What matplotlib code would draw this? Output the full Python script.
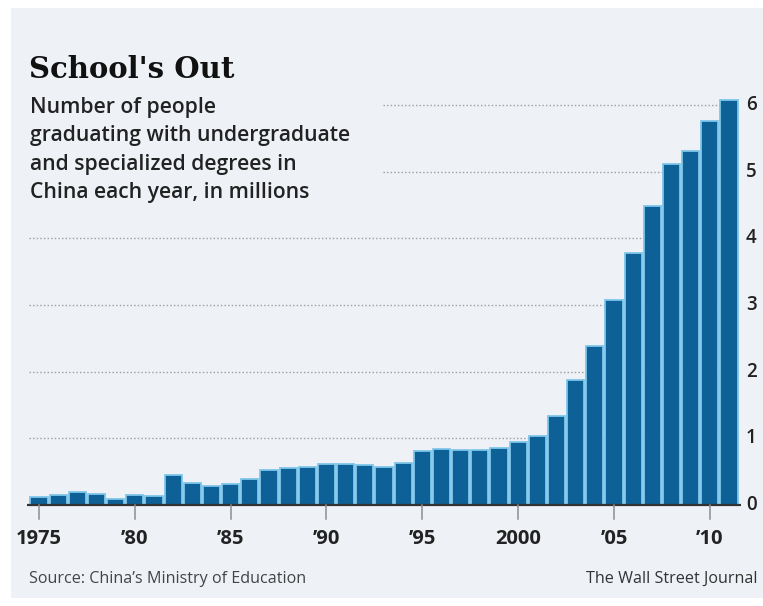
import matplotlib
matplotlib.use("Agg")
import matplotlib.pyplot as plt
from matplotlib.patches import Rectangle

# Graduates in China with undergraduate and specialized degrees, millions
years = list(range(1975, 2012))
graduates = [0.12, 0.15, 0.19, 0.17, 0.085, 0.147, 0.14, 0.457, 0.335, 0.287,
             0.316, 0.393, 0.532, 0.553, 0.576, 0.614, 0.614, 0.604, 0.571,
             0.637, 0.805, 0.839, 0.829, 0.830, 0.848, 0.950, 1.036, 1.337,
             1.877, 2.391, 3.068, 3.775, 4.478, 5.119, 5.311, 5.754, 6.082]

tick_years = [1975, 1980, 1985, 1990, 1995, 2000, 2005, 2010]
tick_labels = ["1975", "\u201980", "\u201985", "\u201990", "\u201995", "2000", "\u201905", "\u201910"]
y_ticks = [0, 1, 2, 3, 4, 5, 6]

title = "School's Out"
subtitle = ["Number of people",
            "graduating with undergraduate",
            "and specialized degrees in",
            "China each year, in millions"]
source = "Source: China\u2019s Ministry of Education"
credit = "The Wall Street Journal"

W, H = 763, 606
BG = "#eef2f7"
BAR = "#0d6196"
EDGE = "#7fc5ea"
TEXT = "#222222"
SANS = ["Open Sans", "DejaVu Sans"]

fig = plt.figure(figsize=(W / 100, H / 100), dpi=100)
fig.patch.set_facecolor("white")
fig.patches.append(Rectangle((11 / W, 1 - 598 / H), (W - 11) / W, (598 - 8) / H,
                             transform=fig.transFigure, facecolor=BG,
                             edgecolor="none", zorder=-10))

def px(x, y):
    return x / W, 1 - y / H

# axes: x slots 1974.5..2011.5 from 29.4 px to 738.6 px, y 0 at 505 px
ymax = 6.3
unit = 66.67
left, right = 29.4, 738.6
bottom_px = 505
top_px = bottom_px - ymax * unit
ax = fig.add_axes([left / W, 1 - bottom_px / H, (right - left) / W, (bottom_px - top_px) / H])
ax.set_facecolor("none")
ax.set_xlim(1974.5, 2011.5)
ax.set_ylim(0, ymax)
for s in ax.spines.values():
    s.set_visible(False)
ax.set_xticks([])
ax.set_yticks([])

# dotted gridlines; upper ones start right of the subtitle
grid_start = {1: 1974.5, 2: 1974.5, 3: 1974.5, 4: 1974.5, 5: 1992.95, 6: 1992.95}
for yv, xs in grid_start.items():
    ax.hlines(yv, xs, 2011.5, colors="#9a9ea3", linestyles=(0, (1, 1.6)),
              linewidth=1.0, zorder=1)

ax.bar(years, graduates, width=0.9, color=BAR, edgecolor=EDGE, linewidth=1.3, zorder=2)

# baseline
ax.plot([1974.4, 2011.6], [0, 0], color="#333333", linewidth=1.6, zorder=3,
        clip_on=False, solid_capstyle="butt")

# tick marks below the baseline and year labels
for ty, tl in zip(tick_years, tick_labels):
    ax.plot([ty, ty], [0, -14 / unit], color="#8a8d91", linewidth=1.1,
            clip_on=False, zorder=3)
    ax.text(ty, -34 / unit, tl, ha="center", va="center", fontsize=14.5,
            fontweight="bold", color=TEXT, family=SANS, clip_on=False)

# right-hand value labels at a fixed pixel x
label_x = (746 - left) / (right - left)
for yv in y_ticks:
    ax.text(label_x, yv, str(yv), transform=ax.get_yaxis_transform(),
            ha="left", va="center", fontsize=13.5, fontweight="semibold",
            color=TEXT, family=SANS)

# titles
fig.text(*px(29, 78), title, ha="left", va="baseline", fontsize=21,
         fontweight="bold", family="DejaVu Serif", color="#111111")
for i, line in enumerate(subtitle):
    fig.text(*px(30, 113 + 28.3 * i), line, ha="left", va="baseline",
             fontsize=15.2, fontweight="semibold", family=SANS, color=TEXT)

# footer
fig.text(*px(29, 583), source, ha="left", va="baseline", fontsize=11.6,
         family=SANS, color="#444444")
fig.text(*px(757, 583), credit, ha="right", va="baseline", fontsize=11.6,
         family=SANS, color="#333333")

fig.savefig("out.png", dpi=100, facecolor=fig.get_facecolor())
